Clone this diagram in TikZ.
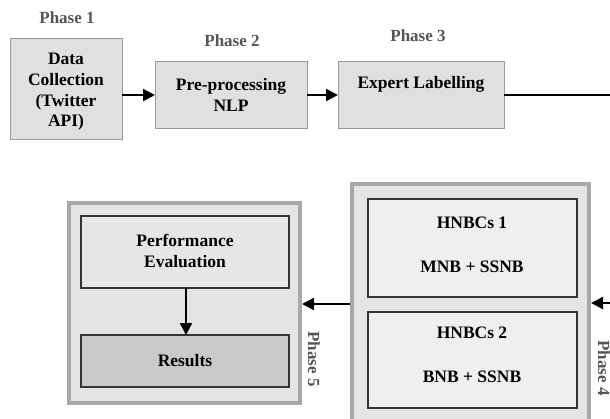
\documentclass[tikz,border=0pt]{standalone}
\usepackage{fontspec}
\setmainfont{Liberation Serif}
\usetikzlibrary{arrows.meta}
\definecolor{topfill}{HTML}{E0E0E0}
\definecolor{topedge}{HTML}{9A9A9A}
\definecolor{outerfill}{HTML}{E4E4E4}
\definecolor{outeredge}{HTML}{A8A8A8}
\definecolor{pefill}{HTML}{E6E6E6}
\definecolor{resfill}{HTML}{C9C9C9}
\definecolor{hnfill}{HTML}{EFEFEF}
\definecolor{phasegray}{HTML}{555555}
\tikzset{
  x=1pt, y=-1pt,
  txt/.style={font=\fontsize{17.5}{20.7}\selectfont\bfseries, align=center, inner sep=0pt},
  phaselbl/.style={font=\fontsize{17}{19}\selectfont\bfseries, text=phasegray, inner sep=0pt},
  topbox/.style={draw=topedge, fill=topfill, line width=1pt},
  outerbox/.style={draw=outeredge, fill=outerfill, line width=4pt},
  innerbox/.style={draw=black!80, line width=1.3pt},
  arr/.style={line width=2.2pt, -{Triangle[length=12pt,width=12pt]}},
}
\begin{document}
\begin{tikzpicture}
\useasboundingbox (0,0) rectangle (610,418);
\clip (0,0) rectangle (610,418);
\fill[white] (0,0) rectangle (610,418);
% top row
\draw[topbox] (10,38) rectangle (122,139);
\node[txt] (b1) at (66,92) {Data\\Collection\\(Twitter\\API)};
\coordinate (b1e) at (122,95);
\draw[topbox] (155,61) rectangle (307,128);
\node[txt] (b2) at (231,95) {Pre-processing\\NLP};
\coordinate (b2w) at (155,95);
\coordinate (b2e) at (307,95);
\draw[topbox] (338,61) rectangle (504,128);
\node[txt] (b3) at (421,84) {Expert Labelling};
\coordinate (b3w) at (338,95);
\coordinate (b3e) at (504,95);
\coordinate (redge1) at (610,95);
\node[phaselbl] (p1) at (67,18) {Phase 1};
\node[phaselbl] (p2) at (232,41) {Phase 2};
\node[phaselbl] (p3) at (418,36) {Phase 3};
\draw[arr] (b1e) -- (b2w);
\draw[arr] (b2e) -- (b3w);
\draw[line width=2.2pt] (b3e) -- (redge1);
% phase 5
\draw[outerbox] (69,203) rectangle (300,403);
\draw[innerbox, fill=pefill] (81,216) rectangle (289,288);
\node[txt] (pe) at (185,251) {Performance\\Evaluation};
\draw[innerbox, fill=resfill] (81,335) rectangle (289,387);
\node[txt] (res) at (185,361) {Results};
\coordinate (peS) at (186,288);
\coordinate (resN) at (186,335);
\draw[arr] (peS) -- (resN);
\node[phaselbl, rotate=-90] (p5) at (314,359) {Phase 5};
% phase 4
\draw[outerbox] (352,184) rectangle (589,430);
\draw[innerbox, fill=hnfill] (368,199) rectangle (577,297);
\node[txt] (h1) at (472,223) {HNBCs 1};
\node[txt] (m1) at (472,267) {MNB + SSNB};
\draw[innerbox, fill=hnfill] (368,312) rectangle (577,408);
\node[txt] (h2) at (472,333) {HNBCs 2};
\node[txt] (m2) at (472,377) {BNB + SSNB};
\node[phaselbl, rotate=-90] (p4) at (604,368) {Phase 4};
\coordinate (redge2) at (610,303);
\coordinate (p4e) at (591,303);
\coordinate (p4w) at (350,304);
\coordinate (p5e) at (302,304);
\draw[arr] (redge2) -- (p4e);
\draw[arr] (p4w) -- (p5e);
\end{tikzpicture}
\end{document}
